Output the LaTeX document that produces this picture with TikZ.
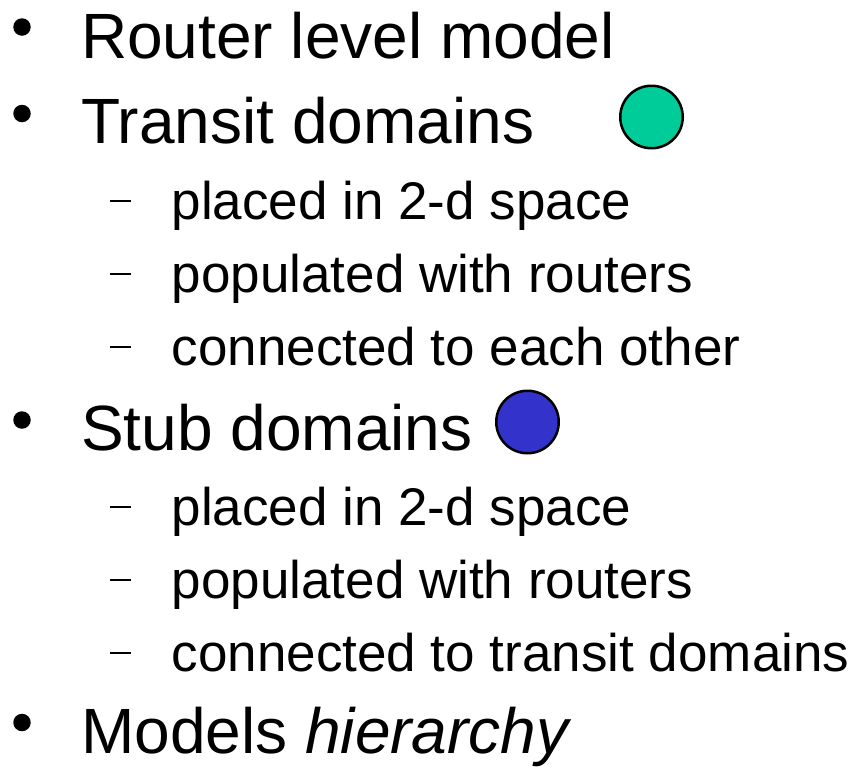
\documentclass[tikz,border=0pt]{standalone}
\usepackage{fontspec}
\setmainfont{Liberation Sans}
\definecolor{transitcol}{HTML}{00CC99}
\definecolor{stubcol}{HTML}{3333CC}
\begin{document}
\begin{tikzpicture}[x=1pt,y=-1pt,
  mainitem/.style={anchor=base west,inner sep=0pt,font=\fontsize{64}{70}\selectfont},
  subitem/.style={anchor=base west,inner sep=0pt,font=\fontsize{53}{60}\selectfont},
  bulletdot/.style={circle,fill=black,minimum size=17.5pt,inner sep=0pt},
  dashmark/.style={line width=2pt},
  domaindot/.style={circle,draw=black,line width=2.5pt,minimum size=62.5pt,inner sep=0pt}]
\useasboundingbox (0,0) rectangle (859,766);
% main items
\node[mainitem] (m1) at (81,58) {Router level model};
\node[mainitem] (m2) at (81,143) {Transit domains};
\node[mainitem] (m3) at (81,450) {Stub domains};
\node[mainitem] (m4) at (81,753) {Models \textit{hierarchy}};
\node[bulletdot] (b1) at (22,27) {};
\node[bulletdot] (b2) at (22,113.5) {};
\node[bulletdot] (b3) at (22,420) {};
\node[bulletdot] (b4) at (22,722.5) {};
% circles
\node[domaindot,fill=transitcol] (tc) at (651.5,117) {};
\node[domaindot,fill=stubcol] (sc) at (527.5,422) {};
% sub items
\node[subitem] (s1) at (171.5,219) {placed in 2-d space};
\node[subitem] (s2) at (171.5,292) {populated with routers};
\node[subitem] (s3) at (171.5,365) {connected to each other};
\node[subitem] (s4) at (171.5,525) {placed in 2-d space};
\node[subitem] (s5) at (171.5,598) {populated with routers};
\node[subitem] (s6) at (171.5,671) {connected to transit domains};
\foreach \y in {219,292,365,525,598,671}{
  \draw[dashmark] (110,\y-18.5) -- (131,\y-18.5);
}
\end{tikzpicture}
\end{document}
